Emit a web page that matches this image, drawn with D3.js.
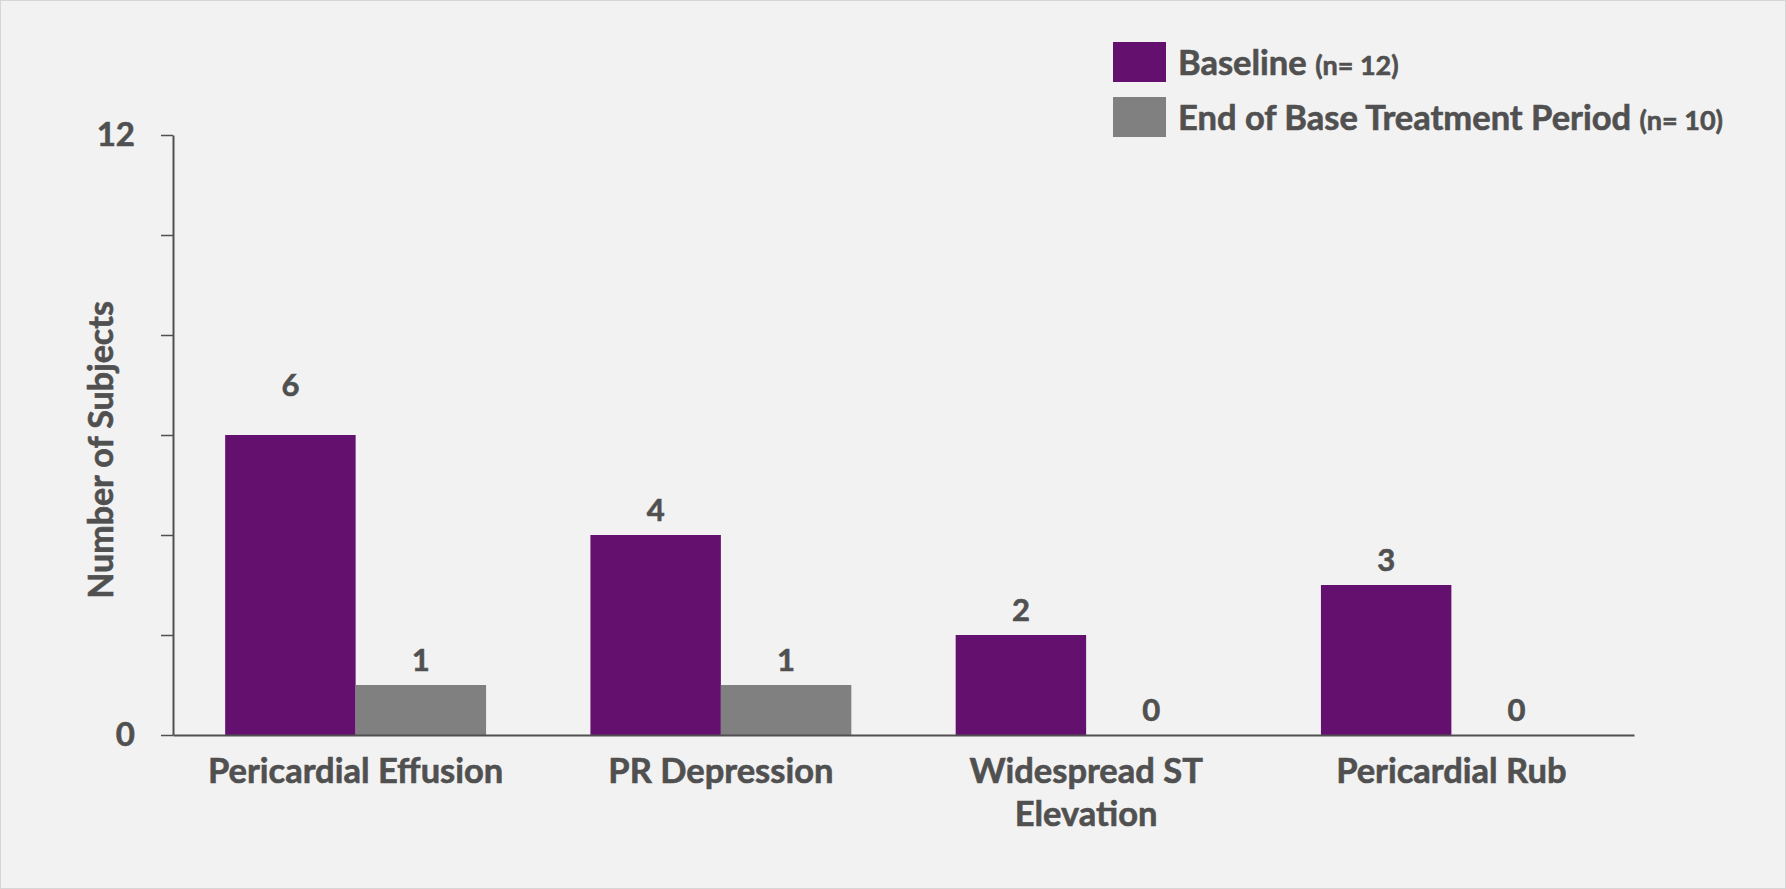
<!DOCTYPE html>
<html>
<head>
<meta charset="utf-8">
<script src="https://cdn.jsdelivr.net/npm/d3@7"></script>
<style>
  html, body { margin: 0; padding: 0; background: #f2f2f2; }
  svg { display: block; }
  text { font-family: Lato, "Open Sans", sans-serif; font-weight: 700; fill: #505050; stroke: #505050; stroke-width: 0.6px; }
</style>
</head>
<body>
<script>
// ---- data ----
const categories = ["Pericardial Effusion", "PR Depression", "Widespread ST Elevation", "Pericardial Rub"];
const seriesNames = ["Baseline", "End of Base Treatment Period"];
const seriesN = ["(n= 12)", "(n= 10)"];
const baselineValues = [6, 4, 2, 3];
const endValues = [1, 1, 0, 0];
const yTickValues = [0, 2, 4, 6, 8, 10, 12];
const yTickLabels = ["0", "", "", "", "", "", "12"];
const yTitle = "Number of Subjects";

const seriesValues = [baselineValues, endValues];
const colors = ["#63106f", "#808080"];

const W = 1786, H = 889;
const svg = d3.select("body").append("svg").attr("width", W).attr("height", H);

svg.append("rect").attr("x", 0.5).attr("y", 0.5).attr("width", W - 1).attr("height", H - 1)
  .attr("fill", "#f2f2f2").attr("stroke", "#d6d6d6").attr("stroke-width", 1);

const plot = { left: 173, right: 1634, top: 135, bottom: 735 };

const x0 = d3.scaleBand().domain(categories).range([plot.left, plot.right]).padding(0);
const x1 = d3.scaleBand().domain(seriesNames).range([0, x0.bandwidth()]).paddingInner(0).paddingOuter(0.4);
const y = d3.scaleLinear().domain([0, 12]).range([plot.bottom, plot.top]);

// bars
const rows = [];
categories.forEach((c, i) => {
  seriesNames.forEach((s, j) => rows.push({ c, s, j, v: seriesValues[j][i] }));
});

svg.append("g").selectAll("rect").data(rows).join("rect")
  .attr("x", d => x0(d.c) + x1(d.s))
  .attr("y", d => y(d.v))
  .attr("width", x1.bandwidth())
  .attr("height", d => y(0) - y(d.v))
  .attr("fill", d => colors[d.j]);

// value labels
const labelLift = d => (d.j === 0 && d.v === 6 ? 25 : 0);
svg.append("g").selectAll("text").data(rows).join("text")
  .attr("x", d => x0(d.c) + x1(d.s) + x1.bandwidth() / 2)
  .attr("y", d => y(d.v) - 14 - labelLift(d))
  .attr("text-anchor", "middle")
  .style("font-size", "31px")
  .text(d => d.v);

// y axis
const yAxis = d3.axisLeft(y).tickValues(yTickValues).tickSize(12).tickSizeOuter(0).tickPadding(26)
  .tickFormat((d, i) => yTickLabels[i]);
const gy = svg.append("g").attr("transform", `translate(${plot.left},0)`).call(yAxis);
gy.select(".domain").attr("stroke", "#505050").attr("stroke-width", 2);
gy.selectAll(".tick line").attr("stroke", "#505050").attr("stroke-width", 1.5);
gy.selectAll(".tick text").style("font-size", "33px").attr("fill", "#505050")
  .style("font-family", "Lato").style("font-weight", 700).attr("stroke", "#505050").attr("stroke-width", 0.6);

// x axis
const xAxis = d3.axisBottom(x0).tickSize(0).tickSizeOuter(0).tickFormat("");
const gx = svg.append("g").attr("transform", `translate(0,${plot.bottom})`).call(xAxis);
gx.select(".domain").attr("stroke", "#505050").attr("stroke-width", 2);

// category labels (wrapped)
const catText = svg.append("g").selectAll("text").data(categories).join("text")
  .attr("x", d => x0(d) + x0.bandwidth() / 2)
  .attr("y", 783)
  .attr("text-anchor", "middle")
  .style("font-size", "34.5px")
  .text(d => d);

catText.each(function (d) {
  const t = d3.select(this);
  const words = d.split(" ");
  const maxW = 345;
  if (this.getComputedTextLength() <= maxW) return;
  t.text(null);
  let line = [];
  let tspan = t.append("tspan").attr("x", t.attr("x")).attr("dy", 0);
  words.forEach(w => {
    line.push(w);
    tspan.text(line.join(" "));
    if (tspan.node().getComputedTextLength() > maxW && line.length > 1) {
      line.pop();
      tspan.text(line.join(" "));
      line = [w];
      tspan = t.append("tspan").attr("x", t.attr("x")).attr("dy", 43).text(w);
    }
  });
});

// y title
svg.append("text")
  .attr("transform", "translate(113,450) rotate(-90)")
  .attr("text-anchor", "middle")
  .style("font-size", "34px")
  .text(yTitle);

// legend
const legend = svg.append("g");
seriesNames.forEach((s, j) => {
  const ly = 42 + j * 55;
  legend.append("rect").attr("x", 1113).attr("y", ly).attr("width", 53).attr("height", 40).attr("fill", colors[j]);
  const t = legend.append("text").attr("x", 1178).attr("y", ly + 33).style("font-size", "34.5px");
  t.append("tspan").text(s + " ");
  t.append("tspan").style("font-size", "27px").text(seriesN[j]);
});
</script>
</body>
</html>
